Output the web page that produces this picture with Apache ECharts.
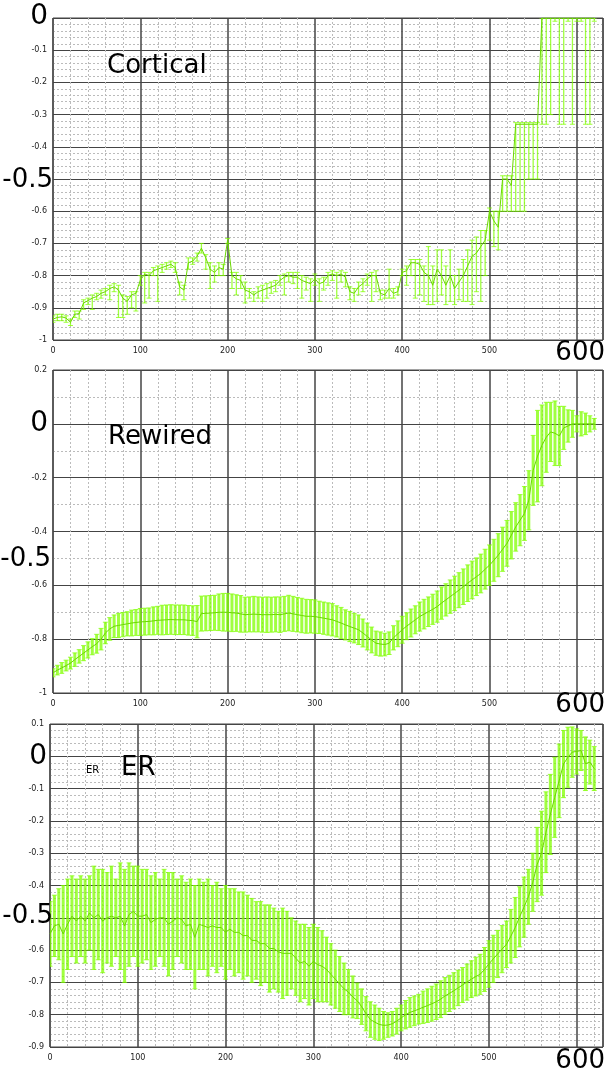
<!DOCTYPE html>
<html><head><meta charset="utf-8">
<script src="https://cdn.jsdelivr.net/npm/echarts@6/dist/echarts.min.js"></script>
<style>html,body{margin:0;padding:0;background:#fff}#c{width:606px;height:1072px}</style>
</head><body><div id="c"></div><script>
// sample positions (x), shared by all three panels
const xs = [0,5,10,15,20,25,30,35,40,45,50,55,60,65,70,75,80,85,90,95,
100,105,110,115,120,125,130,135,140,145,150,155,160,165,170,175,180,185,190,195,
200,205,210,215,220,225,230,235,240,245,250,255,260,265,270,275,280,285,290,295,
300,305,310,315,320,325,330,335,340,345,350,355,360,365,370,375,380,385,390,395,
400,405,410,415,420,425,430,435,440,445,450,455,460,465,470,475,480,485,490,495,
500,505,510,515,520,525,530,535,540,545,550,555,560,565,570,575,580,585,590,595,
600,605,610,615,620];

// Panel 1: Cortical
const corticalMean = [-0.935,-0.930,-0.928,-0.932,-0.945,-0.920,-0.918,-0.885,-0.878,-0.870,
-0.865,-0.855,-0.850,-0.840,-0.835,-0.845,-0.870,-0.880,-0.860,-0.855,
-0.815,-0.795,-0.800,-0.785,-0.780,-0.775,-0.770,-0.765,-0.775,-0.835,
-0.845,-0.760,-0.755,-0.740,-0.715,-0.745,-0.780,-0.790,-0.775,-0.780,
-0.690,-0.800,-0.810,-0.815,-0.845,-0.850,-0.860,-0.850,-0.845,-0.840,
-0.835,-0.830,-0.815,-0.805,-0.800,-0.805,-0.805,-0.815,-0.820,-0.825,
-0.810,-0.825,-0.820,-0.800,-0.795,-0.800,-0.795,-0.805,-0.850,-0.855,
-0.835,-0.825,-0.810,-0.800,-0.800,-0.855,-0.860,-0.840,-0.855,-0.850,
-0.790,-0.785,-0.760,-0.760,-0.765,-0.790,-0.800,-0.830,-0.780,-0.800,
-0.830,-0.800,-0.840,-0.820,-0.800,-0.770,-0.740,-0.730,-0.710,-0.690,
-0.600,-0.630,-0.650,-0.500,-0.500,-0.520,-0.330,-0.330,-0.330,-0.330,
-0.330,-0.330,0,0,0,0,0,0,0,0,
0,0,0,0,0];
const corticalLow = [-0.945,-0.94,-0.94,-0.945,-0.955,-0.93,-0.935,-0.905,-0.89,-0.905,
-0.875,-0.87,-0.86,-0.875,-0.85,-0.93,-0.93,-0.92,-0.90,-0.91,
-0.83,-0.885,-0.87,-0.80,-0.88,-0.79,-0.78,-0.775,-0.79,-0.86,
-0.875,-0.78,-0.765,-0.755,-0.73,-0.78,-0.84,-0.82,-0.80,-0.80,
-0.70,-0.84,-0.86,-0.84,-0.885,-0.87,-0.88,-0.87,-0.88,-0.87,
-0.855,-0.85,-0.83,-0.86,-0.82,-0.825,-0.84,-0.87,-0.845,-0.88,
-0.83,-0.88,-0.845,-0.83,-0.815,-0.87,-0.82,-0.835,-0.875,-0.88,
-0.86,-0.85,-0.83,-0.88,-0.85,-0.875,-0.87,-0.87,-0.87,-0.86,
-0.80,-0.83,-0.80,-0.87,-0.86,-0.88,-0.89,-0.89,-0.88,-0.86,
-0.89,-0.88,-0.89,-0.875,-0.88,-0.88,-0.89,-0.85,-0.88,-0.80,
-0.69,-0.71,-0.72,-0.60,-0.60,-0.60,-0.60,-0.60,-0.60,-0.50,
-0.50,-0.50,-0.33,-0.33,-0.30,-0.01,-0.33,-0.33,-0.01,-0.33,
-0.01,-0.01,-0.33,-0.33,-0.01];
const corticalHigh = [-0.925,-0.92,-0.92,-0.925,-0.935,-0.91,-0.91,-0.875,-0.87,-0.86,
-0.855,-0.845,-0.84,-0.83,-0.825,-0.83,-0.86,-0.865,-0.85,-0.85,
-0.80,-0.79,-0.79,-0.775,-0.77,-0.765,-0.76,-0.755,-0.76,-0.82,
-0.83,-0.745,-0.745,-0.73,-0.70,-0.735,-0.76,-0.77,-0.76,-0.765,
-0.685,-0.79,-0.79,-0.80,-0.82,-0.84,-0.85,-0.835,-0.83,-0.825,
-0.82,-0.815,-0.80,-0.795,-0.79,-0.79,-0.79,-0.80,-0.805,-0.81,
-0.795,-0.81,-0.805,-0.79,-0.785,-0.79,-0.785,-0.79,-0.835,-0.84,
-0.82,-0.81,-0.795,-0.79,-0.785,-0.845,-0.845,-0.78,-0.84,-0.835,
-0.78,-0.77,-0.75,-0.75,-0.75,-0.77,-0.71,-0.77,-0.72,-0.72,
-0.77,-0.72,-0.80,-0.78,-0.75,-0.72,-0.69,-0.68,-0.66,-0.66,
-0.59,-0.60,-0.60,-0.49,-0.49,-0.49,-0.325,-0.325,-0.325,-0.325,
-0.325,-0.325,0,0,0,0,0,0,0,0,
0,0,0,0,0];

// Panel 2: Rewired
const rewiredMean = [-0.925,-0.915,-0.907,-0.898,-0.889,-0.876,-0.864,-0.852,-0.840,-0.828,
-0.817,-0.800,-0.777,-0.762,-0.752,-0.749,-0.746,-0.743,-0.740,-0.738,
-0.736,-0.735,-0.734,-0.732,-0.730,-0.729,-0.728,-0.727,-0.728,-0.728,
-0.728,-0.730,-0.731,-0.735,-0.705,-0.704,-0.703,-0.702,-0.700,-0.700,
-0.700,-0.702,-0.703,-0.706,-0.709,-0.708,-0.707,-0.708,-0.709,-0.709,
-0.709,-0.708,-0.709,-0.706,-0.703,-0.706,-0.709,-0.712,-0.715,-0.715,
-0.716,-0.719,-0.722,-0.725,-0.728,-0.734,-0.740,-0.747,-0.753,-0.759,
-0.765,-0.777,-0.790,-0.803,-0.815,-0.818,-0.820,-0.815,-0.795,-0.780,
-0.765,-0.752,-0.740,-0.728,-0.716,-0.707,-0.698,-0.689,-0.679,-0.666,
-0.654,-0.642,-0.630,-0.618,-0.605,-0.592,-0.580,-0.568,-0.556,-0.540,
-0.525,-0.507,-0.488,-0.466,-0.444,-0.414,-0.383,-0.358,-0.333,-0.284,
-0.173,-0.120,-0.080,-0.050,-0.030,-0.035,-0.045,-0.015,-0.008,0.000,
0,0,0,0,0];
const rewiredErr = [.015,.018,.02,.02,.022,.025,.025,.028,.03,.03,
.035,.04,.04,.042,.042,.045,.045,.045,.048,.048,
.05,.05,.05,.052,.052,.055,.055,.055,.055,.055,
.055,.055,.055,.06,.065,.065,.065,.065,.068,.07,
.07,.07,.068,.068,.065,.065,.066,.065,.065,.066,
.065,.065,.066,.065,.066,.065,.064,.064,.063,.062,
.062,.06,.06,.06,.06,.058,.058,.056,.056,.055,
.055,.052,.05,.048,.045,.045,.042,.042,.045,.048,
.05,.05,.052,.052,.054,.055,.055,.056,.058,.06,
.06,.062,.064,.065,.066,.068,.07,.07,.072,.074,
.075,.078,.08,.082,.085,.088,.09,.095,.1,.11,
.13,.17,.15,.13,.11,.12,.11,.08,.06,.05,
.03,.045,.04,.03,.02];

// Panel 3: ER
const erMean = [-0.55,-0.525,-0.52,-0.55,-0.52,-0.495,-0.51,-0.495,-0.51,-0.485,
-0.50,-0.49,-0.51,-0.50,-0.495,-0.50,-0.495,-0.525,-0.49,-0.48,
-0.495,-0.495,-0.49,-0.515,-0.505,-0.50,-0.50,-0.52,-0.51,-0.50,
-0.505,-0.525,-0.52,-0.56,-0.52,-0.525,-0.53,-0.525,-0.53,-0.53,
-0.545,-0.535,-0.545,-0.545,-0.555,-0.555,-0.57,-0.57,-0.58,-0.58,
-0.595,-0.595,-0.605,-0.61,-0.61,-0.61,-0.625,-0.64,-0.635,-0.65,
-0.635,-0.645,-0.65,-0.66,-0.675,-0.69,-0.705,-0.72,-0.73,-0.745,
-0.757,-0.775,-0.797,-0.815,-0.823,-0.83,-0.833,-0.832,-0.828,-0.82,
-0.81,-0.80,-0.793,-0.788,-0.783,-0.777,-0.772,-0.766,-0.76,-0.752,
-0.742,-0.734,-0.726,-0.717,-0.708,-0.699,-0.69,-0.682,-0.675,-0.66,
-0.643,-0.627,-0.612,-0.597,-0.582,-0.557,-0.53,-0.497,-0.467,-0.435,
-0.39,-0.335,-0.30,-0.235,-0.18,-0.127,-0.076,-0.024,-0.003,0.013,
0.015,0.018,-0.023,-0.018,-0.038];
const erErr = [.10,.095,.11,.15,.14,.125,.13,.125,.13,.115,
.16,.14,.16,.14,.155,.12,.165,.175,.16,.14,
.155,.145,.14,.145,.145,.12,.15,.16,.15,.12,
.135,.135,.14,.16,.14,.135,.15,.125,.14,.12,
.145,.125,.135,.125,.135,.125,.13,.12,.13,.12,
.135,.125,.125,.14,.13,.11,.115,.12,.115,.12,
.115,.115,.11,.10,.095,.09,.085,.08,.07,.065,
.055,.055,.053,.055,.053,.05,.043,.038,.038,.04,
.04,.044,.046,.046,.046,.05,.052,.054,.055,.057,
.057,.056,.056,.055,.054,.056,.057,.06,.062,.068,
.072,.073,.073,.073,.072,.083,.093,.093,.093,.085,
.09,.115,.13,.125,.124,.124,.114,.104,.093,.078,
.07,.062,.083,.068,.068];

// axis tick settings
const yMin = [-1, -1, -0.9];
const yMax = [0, 0.2, 0.1];
const yStep = [0.1, 0.2, 0.1];
const yMinorSplit = [5, 2, 5];
const yHidden = [[0, -0.5], [0], [0, -0.5]];
const xHidden = [600];

const BAR = 'rgba(128,255,0,0.75)';
const LINE = '#6ad800';
const FONT = '"DejaVu Sans", Verdana, sans-serif';
const barWidths = [1.3, 3, 3];

const panels = [
  {low: corticalLow, high: corticalHigh, mean: corticalMean},
  {low: rewiredMean.map((m,i)=>m-rewiredErr[i]), high: rewiredMean.map((m,i)=>m+rewiredErr[i]), mean: rewiredMean},
  {low: erMean.map((m,i)=>m-erErr[i]), high: erMean.map((m,i)=>m+erErr[i]), mean: erMean}
];

const grids = [
  {left:53, top:18, width:553, height:322},
  {left:53, top:370, width:553, height:323},
  {left:50, top:724, width:556, height:323}
].map(g => Object.assign(g, {show:true, borderColor:'#444', borderWidth:1, containLabel:false}));

const xAxes = [0,1,2].map(i => ({
  type:'value', gridIndex:i, min:0, max:630, interval:100,
  axisLine:{show:false}, axisTick:{show:false},
  axisLabel:{fontSize:8, color:'#222', margin:7, fontFamily:FONT,
    formatter: v => (v % 100 !== 0 || xHidden.includes(v)) ? '' : String(v)},
  splitLine:{show:true, lineStyle:{color:'#444', width:1.5}},
  minorTick:{show:false, splitNumber:5},
  minorSplitLine:{show:true, lineStyle:{color:'#bbb', width:1, type:[2,2]}}
}));

const yAxes = [0,1,2].map(i => ({
  type:'value', gridIndex:i, min:yMin[i], max:yMax[i], interval:yStep[i],
  axisLine:{show:false}, axisTick:{show:false},
  axisLabel:{fontSize:8, color:'#222', margin:6, fontFamily:FONT,
    formatter: v => { const r = Math.round(v*100)/100; return yHidden[i].some(h => Math.abs(h-r) < 1e-6) ? '' : String(r); }},
  splitLine:{show:true, lineStyle:{color:'#444', width:1}},
  minorTick:{show:false, splitNumber:yMinorSplit[i]},
  minorSplitLine:{show:true, lineStyle:{color:'#bbb', width:1, type:[2,2]}}
}));

function makeRenderer(lw){
  return function(params, api){
    const x = api.value(0), lo = api.value(1), hi = api.value(2);
    const p1 = api.coord([x, hi]), p2 = api.coord([x, lo]);
    const w = 2.5;
    const style = {stroke: BAR, lineWidth: lw};
    const cap = {stroke: BAR, lineWidth: 1};
    return {type:'group', children:[
      {type:'line', shape:{x1:p1[0], y1:p1[1], x2:p2[0], y2:p2[1]}, style},
      {type:'line', shape:{x1:p1[0]-w, y1:p1[1], x2:p1[0]+w, y2:p1[1]}, style:cap},
      {type:'line', shape:{x1:p2[0]-w, y1:p2[1], x2:p2[0]+w, y2:p2[1]}, style:cap}
    ]};
  };
}

const series = [];
panels.forEach((p, i) => {
  series.push({
    type:'custom', xAxisIndex:i, yAxisIndex:i, renderItem:makeRenderer(barWidths[i]), clip:true,
    encode:{x:0, y:[1,2]},
    data: xs.map((x, k) => [x, p.low[k], p.high[k]])
  });
  series.push({
    type:'line', xAxisIndex:i, yAxisIndex:i, showSymbol:false, clip:true,
    lineStyle:{color:LINE, width:1}, data: xs.map((x, k) => [x, p.mean[k]])
  });
});

function txt(text, x, y, size, align){
  return {type:'text', x:x, y:y, z:100, style:{text:text, fill:'#000', font: size + 'px ' + FONT, align:align || 'left', verticalAlign:'middle'}};
}

const graphics = [
  txt('Cortical', 107, 66, 26),
  txt('0', 48, 17, 28, 'right'),
  txt('-0.5', 53, 180, 26, 'right'),
  txt('600', 605, 353, 26, 'right'),
  txt('Rewired', 108, 437, 26),
  txt('0', 48, 424, 28, 'right'),
  txt('-0.5', 51, 559, 26, 'right'),
  txt('600', 605, 705, 26, 'right'),
  txt('ER', 86, 770, 10),
  txt('ER', 121, 768, 26),
  txt('0', 47, 757, 28, 'right'),
  txt('-0.5', 53, 916, 26, 'right'),
  txt('600', 605, 1061, 26, 'right')
];

const chart = echarts.init(document.getElementById('c'), null, {renderer:'canvas'});
chart.setOption({
  animation:false,
  backgroundColor:'#fff',
  grid: grids, xAxis: xAxes, yAxis: yAxes, series: series, graphic: graphics
});
</script></body></html>
